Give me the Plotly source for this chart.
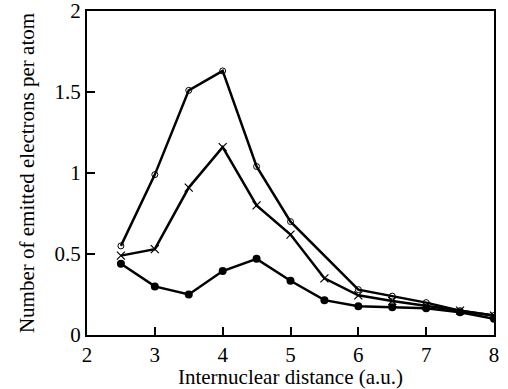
import plotly.graph_objects as go

x_open = [2.5, 3, 3.5, 4, 4.5, 5, 6, 6.5, 7, 7.5, 8]
open_circle = [0.55, 0.99, 1.51, 1.63, 1.04, 0.70, 0.28, 0.24, 0.20, 0.15, 0.12]
x_cross = [2.5, 3, 3.5, 4, 4.5, 5, 5.5, 6, 6.5, 7, 7.5, 8]
cross = [0.49, 0.53, 0.91, 1.16, 0.80, 0.62, 0.35, 0.245, 0.21, 0.18, 0.15, 0.12]
x_filled = [2.5, 3, 3.5, 4, 4.5, 5, 5.5, 6, 6.5, 7, 7.5, 8]
filled = [0.44, 0.30, 0.25, 0.395, 0.47, 0.335, 0.215, 0.178, 0.172, 0.165, 0.14, 0.10]

x_ticks = [2, 3, 4, 5, 6, 7, 8]
y_ticks = [0, 0.5, 1, 1.5, 2]
y_tick_text = ["0", "0.5", "1", "1.5", "2"]

fig = go.Figure()
fig.add_trace(go.Scatter(x=x_open, y=open_circle, mode="lines+markers",
                         line=dict(color="black", width=2.5),
                         marker=dict(symbol="circle-open", size=6, color="black", line=dict(width=1))))
fig.add_trace(go.Scatter(x=x_cross, y=cross, mode="lines+markers",
                         line=dict(color="black", width=2.5),
                         marker=dict(symbol="x-thin", size=8, color="black", line=dict(width=1.2, color="black"))))
fig.add_trace(go.Scatter(x=x_filled, y=filled, mode="lines+markers",
                         line=dict(color="black", width=2.5),
                         marker=dict(symbol="circle", size=8, color="black")))

serif = "Liberation Serif"
fig.update_layout(
    width=508, height=389,
    margin=dict(l=87, r=14, t=11, b=54),
    paper_bgcolor="white", plot_bgcolor="white",
    showlegend=False,
    font=dict(family=serif, color="black"),
    xaxis=dict(range=[2, 8], tickvals=x_ticks, ticks="inside", ticklen=8, tickwidth=2,
               tickcolor="black", showline=True, linecolor="black", linewidth=2, mirror=True,
               showgrid=False, zeroline=False, automargin=False, ticklabeloverflow="allow",
               tickfont=dict(size=21, family=serif),
               title=dict(text="Internuclear distance (a.u.)", font=dict(size=21, family=serif), standoff=2)),
    yaxis=dict(range=[0, 2], tickvals=y_ticks, ticktext=y_tick_text, ticks="inside", ticklen=8, tickwidth=2,
               tickcolor="black", showline=True, linecolor="black", linewidth=2, mirror=True,
               showgrid=False, zeroline=False, automargin=False, ticklabeloverflow="allow",
               tickfont=dict(size=21, family=serif),
               title=dict(text="Number of emitted electrons per atom", font=dict(size=21, family=serif), standoff=14)),
)

fig.write_html("out.html", config={"displayModeBar": False},
               post_script="document.body.style.margin='0';")
